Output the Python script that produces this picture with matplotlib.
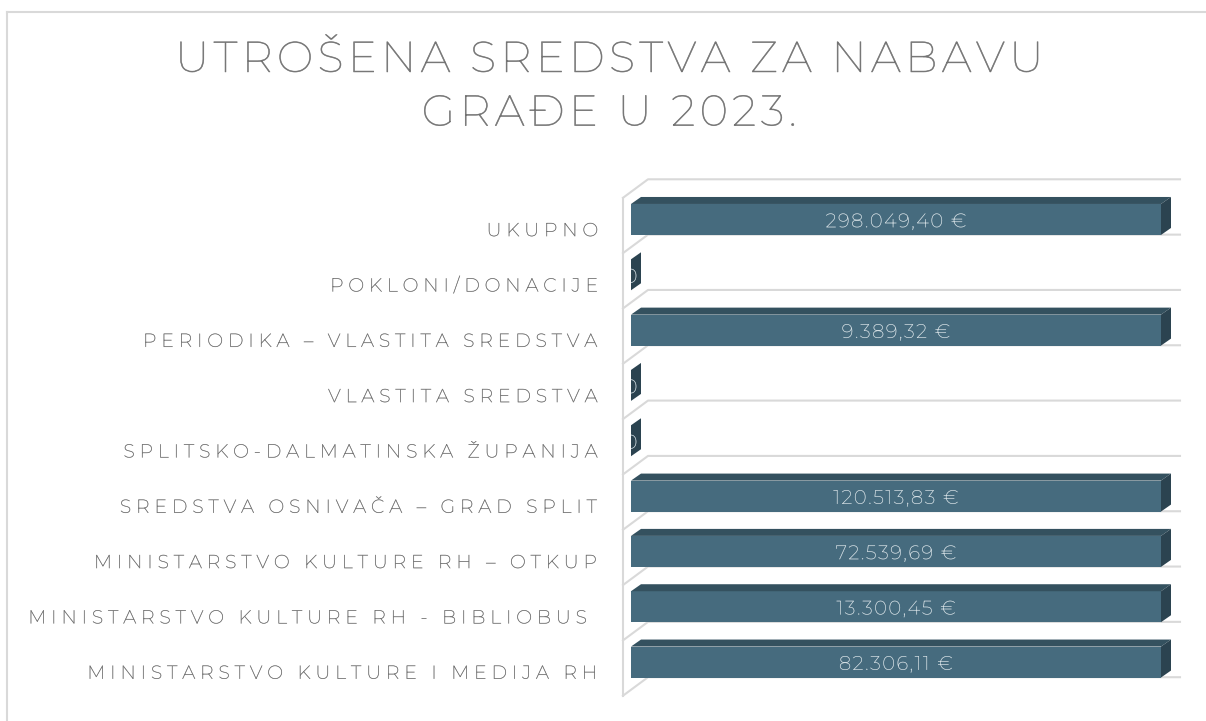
import numpy as np
import matplotlib
matplotlib.use("Agg")
import matplotlib.pyplot as plt
from matplotlib.patches import Polygon
from matplotlib.lines import Line2D
from matplotlib.path import Path
from matplotlib.patheffects import AbstractPathEffect
from matplotlib.textpath import text_to_path
from matplotlib.transforms import IdentityTransform, ScaledTranslation

# ---- data (bottom to top) ----
categories = [
    "MINISTARSTVO KULTURE I MEDIJA RH",
    "MINISTARSTVO KULTURE RH - BIBLIOBUS ",
    "MINISTARSTVO KULTURE RH – OTKUP",
    "SREDSTVA OSNIVAČA – GRAD SPLIT",
    "SPLITSKO-DALMATINSKA ŽUPANIJA",
    "VLASTITA SREDSTVA",
    "PERIODIKA – VLASTITA SREDSTVA",
    "POKLONI/DONACIJE",
    "UKUPNO",
]
values = [82306.11, 13300.45, 72539.69, 120513.83, 0.0, 0.0, 9389.32, 0.0, 298049.40]
axis_max = 9000  # value axis maximum: longer bars are cut at the axis end
title = "UTROŠENA SREDSTVA ZA NABAVU\nGRAĐE U 2023."


def fmt(v):
    if v == 0:
        return "0"
    s = f"{v:,.2f}".replace(",", " ").replace(".", ",").replace(" ", ".")
    return s + " €"


class Tracking(AbstractPathEffect):
    """Letter spacing (tracking) plus a light outline stroke for text."""

    def __init__(self, text_obj, spacing_em, align, stroke_pt=0.0):
        super().__init__()
        self.t = text_obj
        self.sp = spacing_em
        self.align = align
        self.stroke = stroke_pt
        self.k = 0

    def draw_path(self, renderer, gc, tpath, affine, rgbFace=None):
        lines = self.t.get_text().split("\n")
        s = lines[self.k % len(lines)]
        self.k += 1
        verts = tpath.vertices.copy()
        try:
            font = text_to_path._get_font(self.t.get_fontproperties())
            info, gmap, _ = text_to_path.get_glyphs_with_font(font, s)
            sp = self.sp * text_to_path.FONT_SCALE
            pos = 0
            for i, g in enumerate(info):
                m = len(gmap[g[0]][0])
                verts[pos:pos + m, 0] += i * sp
                pos += m
            if pos == len(verts):
                verts[:, 0] -= self.align * sp * (len(info) - 1)
            else:
                verts = tpath.vertices.copy()
        except Exception:
            verts = tpath.vertices.copy()
        path = Path(verts, tpath.codes)
        if self.stroke > 0:
            gc0 = renderer.new_gc()
            gc0.copy_properties(gc)
            gc0.set_linewidth(self.stroke)
            gc0.set_foreground(rgbFace)
            gc0.set_joinstyle("round")
            renderer.draw_path(gc0, path, affine, rgbFace)
            gc0.restore()
        else:
            renderer.draw_path(gc, path, affine, rgbFace)


FONT = ["Montserrat", "DejaVu Sans"]
FRONT = "#466b7e"
TOP = "#34515f"
SIDE = "#2b4350"
GRID = "#d9d9d9"
W, H = 1206, 721

fig = plt.figure(figsize=(W / 100, H / 100), dpi=100)
fig.patch.set_facecolor("white")

ax_left, ax_right = 631, 1161
ax_top, ax_bot = 191.8, 689.7
ax = fig.add_axes([ax_left / W, (H - ax_bot) / H, (ax_right - ax_left) / W, (ax_bot - ax_top) / H])
ax.set_xlim(0, axis_max)
ax.set_ylim(-0.5, len(categories) - 0.5)
ax.patch.set_visible(False)
for sp in ax.spines.values():
    sp.set_visible(False)
ax.set_xticks([])
ax.set_yticks(range(len(categories)))
ax.set_yticklabels(categories, family=FONT, fontsize=13.5, color="#7a7a7a")
ax.tick_params(axis="y", length=0, pad=23.5)
for lab in ax.get_yticklabels():
    lab.set_transform(lab.get_transform() + ScaledTranslation(0, -7 / 72, fig.dpi_scale_trans))
    lab.set_path_effects([Tracking(lab, 0.262, 1.0, 0.3)])

td = ax.transData
ident = IdentityTransform()

# walls / category gridlines (3-D look)
FRONT_OFF = np.array([-8.0, -6.0])
BACK_OFF = np.array([17.0, 12.5])
for k in range(len(categories) + 1):
    yb = k - 0.5
    p0 = td.transform((0, yb))
    p1 = td.transform((axis_max, yb))
    xs = [p0[0] + FRONT_OFF[0], p0[0] + BACK_OFF[0], p1[0] + 19]
    ys = [p0[1] + FRONT_OFF[1], p0[1] + BACK_OFF[1], p1[1] + BACK_OFF[1]]
    ax.add_line(Line2D(xs, ys, transform=ident, color=GRID, lw=1.5, clip_on=False, zorder=1))
pa = td.transform((0, -0.5)) + FRONT_OFF
pb = td.transform((0, len(categories) - 0.5)) + FRONT_OFF
ax.add_line(Line2D([pa[0], pb[0]], [pa[1], pb[1]], transform=ident, color=GRID, lw=1.5,
                   clip_on=False, zorder=1))

# bars
bh = 0.56
DX, DY = 10.0, 7.0
widths = np.minimum(values, axis_max)
ax.barh(range(len(categories)), widths, height=bh, color=FRONT, zorder=3, linewidth=0)
for i, w in enumerate(widths):
    bl = td.transform((0, i + bh / 2))
    br = td.transform((w, i + bh / 2))
    bb = td.transform((w, i - bh / 2))
    top = [bl, br, br + [DX, DY], bl + [DX, DY]]
    side = [bb, br, br + [DX, DY], bb + [DX, DY]]
    ax.add_patch(Polygon(top, closed=True, transform=ident, facecolor=TOP, edgecolor="none",
                         clip_on=False, zorder=4))
    ax.add_patch(Polygon(side, closed=True, transform=ident, facecolor=SIDE, edgecolor="none",
                         clip_on=False, zorder=4))
    dl = ax.text(w / 2, i - 0.05, fmt(values[i]), ha="center", va="center", family=FONT,
                 fontsize=14, color="#d3dee3", zorder=5, clip_on=True)
    dl.set_path_effects([Tracking(dl, 0.08, 0.5, 0.2)])

# title
tt = fig.text(609 / W, 1 - 87 / H, title, ha="center", va="center", family=FONT, fontsize=31,
              color="#737373", linespacing=1.45)
tt.set_path_effects([Tracking(tt, 0.104, 0.5, 0.45)])

# chart border
fig.add_artist(Line2D([7 / W, 1], [1 - 12 / H] * 2, transform=fig.transFigure, color=GRID, lw=1.5))
fig.add_artist(Line2D([7 / W, 7 / W], [0, 1 - 12 / H], transform=fig.transFigure, color=GRID, lw=1.5))

fig.savefig("out.png", dpi=100)
